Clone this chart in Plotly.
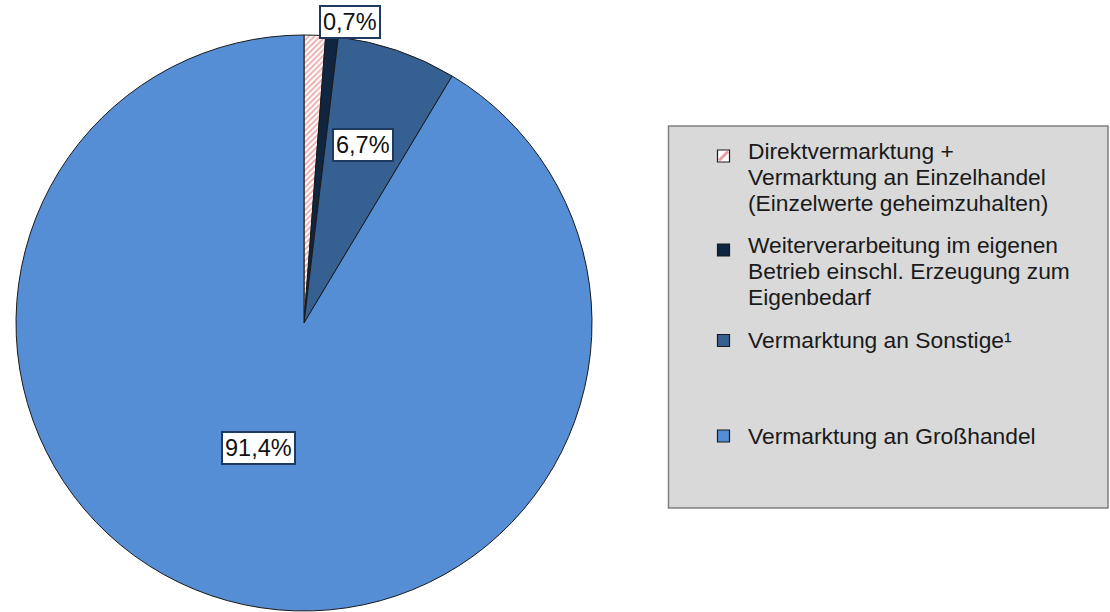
import plotly.graph_objects as go

# ---- data ----
legend_labels = [
    "Direktvermarktung +\nVermarktung an Einzelhandel\n(Einzelwerte geheimzuhalten)",
    "Weiterverarbeitung im eigenen\nBetrieb einschl. Erzeugung zum\nEigenbedarf",
    "Vermarktung an Sonstige¹",
    "Vermarktung an Großhandel",
]
shares = [1.2, 0.7, 6.7, 91.4]
share_texts = ["", "0,7%", "6,7%", "91,4%"]
colors = ["#ffffff", "#10253f", "#376092", "#558ed5"]

W, H = 1110, 612


def px(x):
    return x / W


def py(y):
    return 1 - y / H


# pie geometry (pixels)
cx, cy, R = 304, 323, 288

fig = go.Figure()
fig.add_trace(go.Pie(
    labels=[l.replace("\n", " ") for l in legend_labels],
    values=shares,
    sort=False,
    direction="clockwise",
    rotation=0,
    textinfo="none",
    hoverinfo="label+percent",
    showlegend=False,
    marker=dict(
        colors=colors,
        line=dict(color="#1a1a1a", width=1),
        pattern=dict(
            shape=["/", "", "", ""],
            fgcolor=["#eda9a9", "#10253f", "#376092", "#558ed5"],
            bgcolor=colors,
            size=4,
            solidity=0.45,
        ),
    ),
    domain=dict(x=[px(cx - R), px(cx + R)], y=[max(py(cy + R), 0), py(cy - R)]),
))

font = "Liberation Sans, Arial, sans-serif"

# value labels in boxes
label_pos = [None, (350, 22), (363, 145), (258, 448)]
annotations = []
for txt, pos in zip(share_texts, label_pos):
    if not txt:
        continue
    annotations.append(dict(
        x=px(pos[0]), y=py(pos[1]), xref="paper", yref="paper",
        text=txt, showarrow=False, xanchor="center", yanchor="middle",
        font=dict(family=font, size=23.5, color="#111111"),
        bgcolor="#ffffff", bordercolor="#1f3a60", borderwidth=2, borderpad=2,
    ))

shapes = []
# legend box
shapes.append(dict(type="rect", xref="paper", yref="paper",
                   x0=px(668.5), x1=px(1108), y0=py(508), y1=py(126),
                   fillcolor="#d9d9d9", line=dict(color="#7f7f7f", width=1.5),
                   layer="below"))

line_starts = [151, 244.5, 340, 436]
marker_centers = [156, 250, 340.5, 436]
line_step = 26
for i, lab in enumerate(legend_labels):
    for j, ln in enumerate(lab.split("\n")):
        annotations.append(dict(
            x=px(746), y=py(line_starts[i] + j * line_step), xref="paper", yref="paper",
            text=ln, showarrow=False, xanchor="left", yanchor="middle",
            font=dict(family=font, size=22.8, color="#1a1a1a"),
        ))
    mc = marker_centers[i]
    shapes.append(dict(type="rect", xref="paper", yref="paper",
                       x0=px(717.5), x1=px(729.5), y0=py(mc + 6), y1=py(mc - 6),
                       fillcolor=colors[i], line=dict(color="#1a1a1a", width=1.2)))
    if i == 0:
        shapes.append(dict(type="line", xref="paper", yref="paper",
                           x0=px(719), x1=px(728), y0=py(mc + 4.5), y1=py(mc - 4.5),
                           line=dict(color="#e8a0a0", width=3)))

fig.update_layout(
    width=W, height=H,
    margin=dict(l=0, r=0, t=0, b=0),
    paper_bgcolor="#ffffff",
    plot_bgcolor="#ffffff",
    annotations=annotations,
    shapes=shapes,
    showlegend=False,
)

fig.write_html("out.html", config={"displayModeBar": False},
               post_script="document.body.style.margin='0';")
